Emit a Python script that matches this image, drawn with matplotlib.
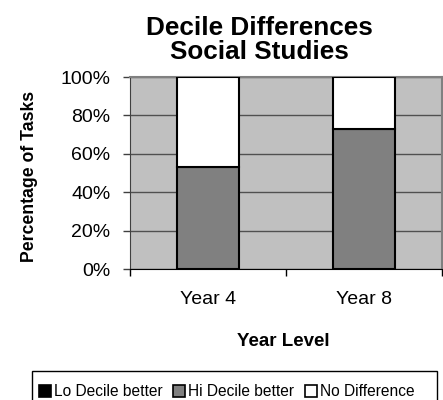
import matplotlib
matplotlib.use("Agg")
import matplotlib.pyplot as plt
from matplotlib.patches import Patch, Rectangle

plt.rcParams['font.family'] = ['Liberation Sans', 'DejaVu Sans']

# Percentage of tasks per year level
years = ["Year 4", "Year 8"]
lo_decile = [0, 0]
hi_decile = [53, 73]
no_diff = [47, 27]

series_names = ["Lo Decile better", "Hi Decile better", "No Difference"]
series_colors = ["#000000", "#808080", "#ffffff"]

fig = plt.figure(figsize=(4.43, 4.0), dpi=100)
ax = fig.add_axes([130/443, 1 - 269/400, 312/443, 192/400])
ax.set_facecolor("#c0c0c0")

x = list(range(len(years)))
bottom = [0] * len(years)
for vals, col in zip([lo_decile, hi_decile, no_diff], series_colors):
    ax.bar(x, vals, width=0.4, bottom=bottom, color=col,
           edgecolor="black", linewidth=1.5, zorder=3)
    bottom = [b + v for b, v in zip(bottom, vals)]

ax.set_xlim(-0.5, 1.5)
ax.set_ylim(0, 100)
ax.set_yticks([0, 20, 40, 60, 80, 100])
ax.set_yticklabels(["0%", "20%", "40%", "60%", "80%", "100%"])
ax.yaxis.grid(True, color="#505050", linewidth=1.0, zorder=1)
ax.set_axisbelow(True)

# category labels centred, tick marks between categories
ax.set_xticks(x)
ax.set_xticklabels(years)
ax.set_xticks([-0.5, 0.5, 1.5], minor=True)
ax.tick_params(axis="x", which="major", length=0, pad=16, labelsize=14)
ax.tick_params(axis="x", which="minor", length=5, width=1, color="black",
               direction="out")
ax.tick_params(axis="y", length=5, width=1, color="#404040", pad=9,
               labelsize=14)

for side in ["top", "right"]:
    ax.spines[side].set_color("#808080")
    ax.spines[side].set_linewidth(1.5)
ax.spines["left"].set_color("#404040")
ax.spines["bottom"].set_color("black")

fig.text(259/443, 1 - 40/400, "Decile Differences\nSocial Studies",
         ha="center", va="center", fontsize=18.8, fontweight="bold",
         linespacing=1.0)
fig.text(30/443, 1 - 176/400, "Percentage of Tasks", rotation=90,
         ha="center", va="center", fontsize=12.7, fontweight="bold")
fig.text(283/443, 1 - 341/400, "Year Level", ha="center", va="center",
         fontsize=13.5, fontweight="bold")

# legend box runs off the bottom edge
fig.patches.append(Rectangle((32/443, -0.05), 405/443, 0.05 + 1 - 371/400,
                             transform=fig.transFigure, facecolor="white",
                             edgecolor="black", linewidth=1.0))
handles = [Patch(facecolor=c, edgecolor="black", linewidth=1.2)
           for c in series_colors]
leg = fig.legend(handles, series_names, ncol=3, loc="center left",
                 bbox_to_anchor=(39/443, 1 - 392/400), frameon=False,
                 fontsize=11.2, handlelength=0.75, handleheight=0.75,
                 handletextpad=0.2, columnspacing=0.7, borderaxespad=0,
                 borderpad=0)

fig.savefig("out.png", dpi=100)
